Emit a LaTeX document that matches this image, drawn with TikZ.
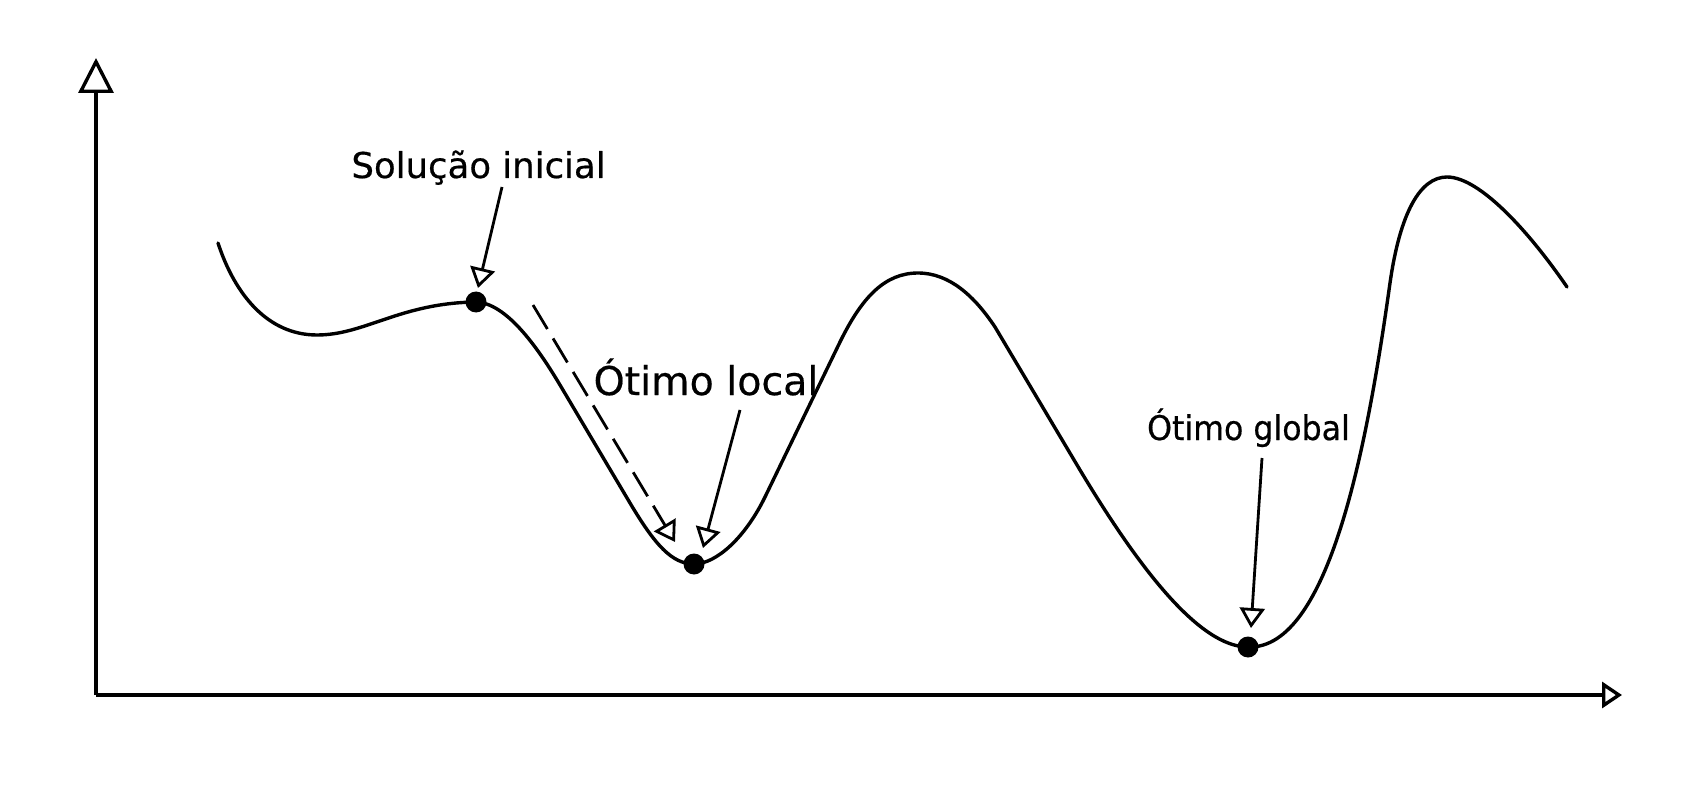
\documentclass[tikz,border=0pt]{standalone}
\usepackage{fontspec}
\setmainfont[FakeBold=0.5]{DejaVu Sans}
\newfontfamily\narrowfont[FakeStretch=0.93, FakeBold=0.5]{DejaVu Sans}
\usetikzlibrary{arrows.meta}
\tikzset{
  curveline/.style={line width=3.4pt, line join=round, line cap=round},
  axisline/.style={line width=3.4pt},
  pointer/.style={line width=2.8pt, -{Triangle[open, length=20pt, width=25pt, line width=2.8pt]}},
  dashpointer/.style={pointer, dash pattern=on 28pt off 11pt},
  dot/.style={circle, fill=black, inner sep=0pt, minimum size=21pt},
  lbl/.style={inner sep=0pt, anchor=base}
}
\begin{document}
\begin{tikzpicture}[x=1pt, y=-1pt]
\useasboundingbox (0,0) rectangle (1694,794);
% axes
\coordinate (origin) at (96,695);
\coordinate (ytip) at (96,58);
\coordinate (xtip) at (1622,695);
\draw[axisline, -{Triangle[open, length=35pt, width=35pt, line width=3.4pt]}] (origin) -- (ytip);
\draw[axisline, -{Triangle[open, length=20pt, width=26pt, line width=3.4pt]}] (origin) -- (xtip);
% points
\node[dot] (ini) at (476,302) {};
\node[dot] (loc) at (694,564) {};
\node[dot] (glob) at (1248,647) {};
% curve
\draw[curveline]
  (218,243) .. controls (235,295) and (268,335) .. (317,335)
  .. controls (365,335) and (400,303) .. (ini.center)
  .. controls (505,303) and (535,343) .. (560,385)
  -- (630,503)
  .. controls (655,545) and (672,564) .. (loc.center)
  .. controls (716,564) and (745,538) .. (765,497)
  -- (840,342)
  .. controls (862,297) and (885,273) .. (918,273)
  .. controls (950,273) and (975,297) .. (995,327)
  -- (1080,470)
  .. controls (1140,570) and (1200,647) .. (glob.center)
  .. controls (1330,650) and (1368,440) .. (1390,283)
  .. controls (1400,213) and (1420,177) .. (1447,177)
  .. controls (1480,177) and (1530,233) .. (1567,287);
% labels
\node[lbl, font=\fontsize{35.5}{40}\selectfont] (tini) at (478.5,178) {Solução inicial};
\node[lbl, font=\fontsize{39.5}{44}\selectfont] (tloc) at (706,395) {Ótimo local};
\node[lbl, font=\narrowfont\fontsize{34}{40}\selectfont] (tglob) at (1248.5,440) {Ótimo global};
% pointers
\coordinate (a1s) at (502,187);
\coordinate (a1e) at (478,288);
\coordinate (a2s) at (740,410);
\coordinate (a2e) at (703,548);
\coordinate (a3s) at (1262,458);
\coordinate (a3e) at (1251,628);
\coordinate (d1s) at (533,305);
\coordinate (d1e) at (675,542);
\draw[pointer] (a1s) -- (a1e);
\draw[pointer] (a2s) -- (a2e);
\draw[pointer] (a3s) -- (a3e);
\draw[dashpointer] (d1s) -- (d1e);
\end{tikzpicture}
\end{document}
